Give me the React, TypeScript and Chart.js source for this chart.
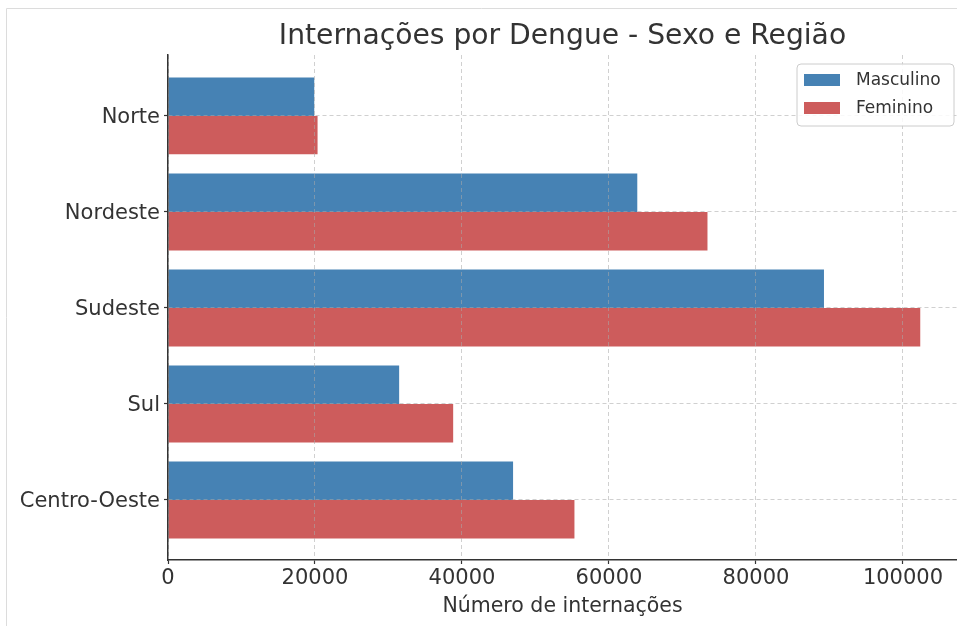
import React, { useEffect, useRef } from "react";
import { Chart, registerables } from "chart.js";

Chart.register(...registerables);

const categories = ["Norte", "Nordeste", "Sudeste", "Sul", "Centro-Oeste"];
const masculino = [19900, 63850, 89250, 31450, 46950];
const feminino = [20350, 73400, 102350, 38800, 55300];
const xTicks = [0, 20000, 40000, 60000, 80000, 100000];
const seriesNames = ["Masculino", "Feminino"];
const seriesColors = ["#4682B4", "#CD5C5C"];
const titleText = "Internações por Dengue - Sexo e Região";
const xTitle = "Número de internações";

const FONT = '"DejaVu Sans", Verdana, sans-serif';
const W = 957;
const H = 626;

const decorPlugin = {
  id: "decor",
  afterDraw(chart: any) {
    const { ctx, chartArea } = chart;
    ctx.save();
    // outer light frame (top and left)
    ctx.strokeStyle = "#dcdcdc";
    ctx.lineWidth = 1;
    ctx.beginPath();
    ctx.moveTo(6.5, H);
    ctx.lineTo(6.5, 8.5);
    ctx.lineTo(W, 8.5);
    ctx.stroke();

    // title centred over plot area
    ctx.fillStyle = "#333333";
    ctx.font = `28.2px ${FONT}`;
    ctx.textAlign = "center";
    ctx.textBaseline = "middle";
    ctx.fillText(titleText, (chartArea.left + chartArea.right) / 2, 36.5);

    // legend box
    const bx = chartArea.right - 160;
    const by = chartArea.top + 9;
    const bw = 157;
    const bh = 62;
    const r = 4;
    ctx.beginPath();
    ctx.moveTo(bx + r, by);
    ctx.lineTo(bx + bw - r, by);
    ctx.quadraticCurveTo(bx + bw, by, bx + bw, by + r);
    ctx.lineTo(bx + bw, by + bh - r);
    ctx.quadraticCurveTo(bx + bw, by + bh, bx + bw - r, by + bh);
    ctx.lineTo(bx + r, by + bh);
    ctx.quadraticCurveTo(bx, by + bh, bx, by + bh - r);
    ctx.lineTo(bx, by + r);
    ctx.quadraticCurveTo(bx, by, bx + r, by);
    ctx.closePath();
    ctx.fillStyle = "rgba(255,255,255,0.85)";
    ctx.fill();
    ctx.strokeStyle = "#cccccc";
    ctx.lineWidth = 1;
    ctx.stroke();

    ctx.font = `17px ${FONT}`;
    ctx.textAlign = "left";
    ctx.textBaseline = "middle";
    chart.data.datasets.forEach((ds: any, i: number) => {
      const cy = by + 16 + i * 28;
      ctx.fillStyle = ds.backgroundColor;
      ctx.fillRect(bx + 7, cy - 6, 36, 12);
      ctx.fillStyle = "#333333";
      ctx.fillText(ds.label, bx + 59, cy + 1);
    });
    ctx.restore();
  },
};

export default function App() {
  const ref = useRef<HTMLCanvasElement | null>(null);

  useEffect(() => {
    if (!ref.current) return;
    const datasets = [masculino, feminino].map((vals, s) => ({
      label: seriesNames[s],
      data: vals.map((v, i) => ({ x: v, y: i })),
      backgroundColor: seriesColors[s],
      borderWidth: 0,
      categoryPercentage: 0.8,
      barPercentage: 1.0,
    }));

    const gridCommon = {
      z: 1,
      offset: false,
      color: "rgba(170,170,170,0.55)",
      lineWidth: 1,
      tickColor: "#333333",
      tickLength: 4,
      tickWidth: 1.2,
      tickBorderDash: [],
      tickBorderDashOffset: 0,
    };

    const chart = new Chart(ref.current, {
      type: "bar",
      data: { datasets },
      plugins: [decorPlugin],
      options: {
        indexAxis: "y",
        responsive: false,
        animation: false,
        devicePixelRatio: 1,
        layout: { padding: { top: 55, left: 0, right: 0, bottom: 0 } },
        plugins: {
          legend: { display: false },
          title: { display: false },
          tooltip: { enabled: false },
        },
        scales: {
          x: {
            type: "linear",
            offset: false,
            min: 0,
            max: 107350,
            afterBuildTicks(scale: any) {
              scale.ticks = xTicks.map((v) => ({ value: v }));
            },
            afterFit(scale: any) {
              scale.height = 66;
            },
            ticks: {
              color: "#333333",
              font: { family: FONT, size: 21 },
              padding: 2,
              maxRotation: 0,
              autoSkip: false,
              callback: (v: any) => String(v),
            },
            grid: { ...gridCommon },
            border: { display: true, color: "#333333", width: 1.5, dash: [4, 3], z: 2 },
            title: {
              display: true,
              text: xTitle,
              color: "#333333",
              font: { family: FONT, size: 20.5 },
              padding: { top: 0, bottom: 7 },
            },
          },
          y: {
            type: "linear",
            offset: false,
            reverse: true,
            min: -0.635,
            max: 4.625,
            afterBuildTicks(scale: any) {
              scale.ticks = categories.map((_, i) => ({ value: i }));
            },
            afterFit(scale: any) {
              scale.width = 168;
            },
            ticks: {
              color: "#333333",
              font: { family: FONT, size: 21 },
              padding: 4,
              labelOffset: 2,
              autoSkip: false,
              callback: (v: any) => categories[Math.round(Number(v))] ?? "",
            },
            grid: { ...gridCommon },
            border: { display: true, color: "#333333", width: 1.5, dash: [4, 3], z: 2 },
          },
        },
      } as any,
    });
    return () => chart.destroy();
  }, []);

  return (
    <div
      style={{
        position: "fixed",
        left: 0,
        top: 0,
        width: W,
        height: H,
        background: "#ffffff",
      }}
    >
      <canvas ref={ref} width={W} height={H} style={{ display: "block" }} />
    </div>
  );
}
